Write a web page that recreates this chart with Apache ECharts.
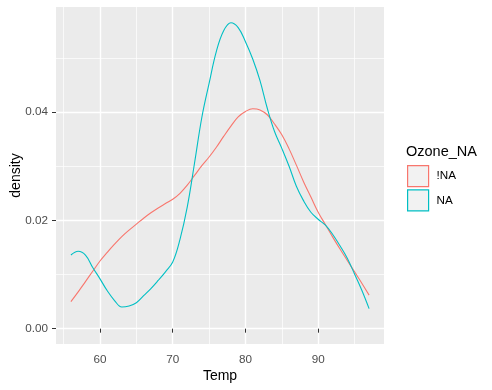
<!DOCTYPE html>
<html>
<head>
<meta charset="utf-8">
<script src="https://cdn.jsdelivr.net/npm/echarts@6/dist/echarts.min.js"></script>
<style>html,body{margin:0;padding:0;background:#fff;}#c{width:492px;height:390px;}</style>
</head>
<body>
<div id="c"></div>
<script>
const temps = [56,57,58,59,60,61,62,63,64,65,66,67,68,69,70,71,72,73,74,75,76,77,78,79,80,81,82,83,84,85,86,87,88,89,90,91,92,93,94,95,96,97];
const densityNotNA = [0.0050,0.0068,0.0087,0.0106,0.0125,0.0141,0.0156,0.0170,0.0182,0.0193,0.0204,0.0214,0.0223,0.0231,0.0239,0.0250,0.0265,0.0283,0.0301,0.0317,0.0335,0.0355,0.0374,0.0391,0.0401,0.0406,0.0404,0.0395,0.0378,0.0358,0.0332,0.0302,0.0271,0.0243,0.0215,0.0192,0.0169,0.0147,0.0126,0.0105,0.0084,0.0062];
const densityNA = [0.0136,0.0143,0.0136,0.0113,0.0092,0.0070,0.0052,0.0040,0.0042,0.0048,0.0061,0.0074,0.0089,0.0105,0.0123,0.0165,0.0225,0.0306,0.0390,0.0453,0.0512,0.0550,0.0565,0.0556,0.0530,0.0498,0.0458,0.0407,0.0364,0.0333,0.0300,0.0263,0.0236,0.0215,0.0202,0.0191,0.0174,0.0153,0.0130,0.0101,0.0071,0.0037];
const seriesNames = ['!NA','NA'];
const xMajor = [60,70,80,90];
const xMinor = [55,65,75,85,95];
const yMajor = [0,0.02,0.04];
const yMinor = [0.01,0.03,0.05];
const yLabels = ['0.00','0.02','0.04'];

const colors = ['#F8766D','#00BFC4'];
const font = 'Liberation Sans, Arial, sans-serif';
const pairs = arr => temps.map((t,i)=>[t,arr[i]]);

const chart = echarts.init(document.getElementById('c'), null, {renderer:'canvas'});
chart.setOption({
  animation:false,
  title:{text:'Ozone_NA', left:406, top:144, padding:0,
    textStyle:{fontFamily:font, fontSize:14.5, fontWeight:'normal', color:'#000'}},
  legend:{
    orient:'vertical', left:407, top:165, padding:0, itemWidth:21, itemHeight:21, itemGap:2, icon:'rect',
    textStyle:{fontFamily:font, fontSize:11.7, color:'#000', padding:[0,0,0,3]},
    data: seriesNames.map((n,i)=>({name:n, itemStyle:{color:'#F2F2F2', borderColor:colors[i], borderWidth:1.2}}))
  },
  grid:{left:56, right:108, top:7, bottom:46, show:true, backgroundColor:'#EBEBEB', borderWidth:0, containLabel:false, outerBoundsMode:'none'},
  xAxis:[{
    type:'value', min:53.95, max:99.05,
    name:'Temp', nameLocation:'middle', nameGap:25, nameMoveOverlap:false,
    nameTextStyle:{fontFamily:font, fontSize:14, color:'#000'},
    axisLine:{show:false},
    axisTick:{show:true, length:4, customValues:xMajor, lineStyle:{color:'#333333', width:1}},
    axisLabel:{customValues:xMajor, margin:10, fontFamily:font, fontSize:11.7, color:'#4D4D4D'},
    splitLine:{show:true, lineStyle:{color:'#FFFFFF', width:1.4}}
  },{
    type:'value', min:53.95, max:99.05, position:'bottom',
    axisLine:{show:false}, axisLabel:{show:false},
    axisTick:{show:false, customValues:xMinor},
    splitLine:{show:true, lineStyle:{color:'#FFFFFF', width:0.7}}
  }],
  yAxis:[{
    type:'value', min:-0.00283, max:0.0594,
    name:'density', nameLocation:'middle', nameGap:33, nameRotate:90, nameMoveOverlap:false,
    nameTextStyle:{fontFamily:font, fontSize:14, color:'#000'},
    axisLine:{show:false},
    axisTick:{show:true, length:4, customValues:yMajor, lineStyle:{color:'#333333', width:1}},
    axisLabel:{customValues:yMajor, margin:8, fontFamily:font, fontSize:11.7, color:'#4D4D4D',
      formatter:v=>{const i=yMajor.findIndex(m=>Math.abs(m-v)<1e-9);return i>=0?yLabels[i]:v.toFixed(2);}},
    splitLine:{show:true, lineStyle:{color:'#FFFFFF', width:1.4}}
  },{
    type:'value', min:-0.00283, max:0.0594, position:'left',
    axisLine:{show:false}, axisLabel:{show:false},
    axisTick:{show:false, customValues:yMinor},
    splitLine:{show:true, lineStyle:{color:'#FFFFFF', width:0.7}}
  }],
  series:[
    {name:seriesNames[0], type:'line', data:pairs(densityNotNA), smooth:0.4, showSymbol:false, symbol:'none',
      lineStyle:{color:colors[0], width:1.1}, itemStyle:{color:colors[0]}, z:3},
    {name:seriesNames[1], type:'line', data:pairs(densityNA), smooth:0.4, showSymbol:false, symbol:'none',
      lineStyle:{color:colors[1], width:1.1}, itemStyle:{color:colors[1]}, z:3}
  ]
});
</script>
</body>
</html>
